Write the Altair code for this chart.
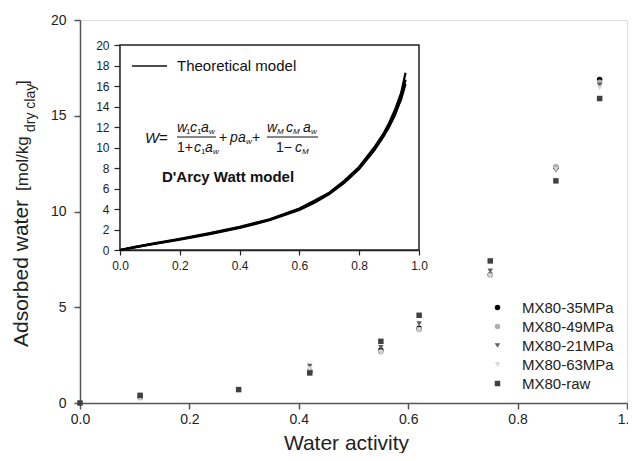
import altair as alt
import pandas as pd

FONT = "Liberation Sans"

# ---------------- data ----------------
aw = [0.0, 0.11, 0.29, 0.42, 0.55, 0.62, 0.75, 0.87, 0.95]
mx35 = [None, 0.30, None, 1.65, 2.75, 3.90, 6.70, 12.30, 16.90]
mx49 = [None, 0.28, None, 1.70, 2.68, 3.84, 6.68, 12.35, 16.75]
mx21 = [None, 0.35, None, 1.92, 2.90, 4.15, 6.90, 12.15, 16.60]
mx63 = [None, 0.25, None, 1.80, 2.65, 3.82, 6.62, 12.20, 16.45]
mxraw = [0.0, 0.40, 0.70, 1.57, 3.22, 4.58, 7.42, 11.60, 15.90]

series_names = ["MX80-35MPa", "MX80-49MPa", "MX80-21MPa", "MX80-63MPa", "MX80-raw"]
series_colors = ["#000000", "#b0b0b0", "#606060", "#d6d6d6", "#404040"]
series_shapes = ["circle", "circle", "triangle-down", "triangle-down", "square"]

# theoretical (D'Arcy-Watt) curves in the inset
aw_fit = [0, 0.05, 0.1, 0.2, 0.3, 0.4, 0.5, 0.6, 0.65, 0.7, 0.75, 0.8, 0.85, 0.88, 0.9, 0.92, 0.94, 0.955]
fit_a = [0, 0.28, 0.55, 1.05, 1.60, 2.20, 2.95, 4.00, 4.70, 5.55, 6.70, 8.10, 10.0, 11.3, 12.4, 13.7, 15.3, 17.3]
fit_b = [0, 0.26, 0.52, 1.00, 1.55, 2.15, 2.90, 3.90, 4.60, 5.45, 6.55, 7.90, 9.70, 11.0, 12.0, 13.2, 14.8, 16.6]
fit_c = [0, 0.30, 0.58, 1.10, 1.65, 2.25, 3.00, 4.05, 4.80, 5.60, 6.75, 8.10, 9.90, 11.1, 12.1, 13.3, 14.7, 16.2]

main_x_ticks = [0.0, 0.2, 0.4, 0.6, 0.8, 1.0]
main_y_ticks = [0, 5, 10, 15, 20]
inset_x_ticks = [0.0, 0.2, 0.4, 0.6, 0.8, 1.0]
inset_y_ticks = [0, 2, 4, 6, 8, 10, 12, 14, 16, 18, 20]

# ---------------- tables ----------------
rows = []
for name, vals in zip(series_names, [mx35, mx49, mx21, mx63, mxraw]):
    for a, v in zip(aw, vals):
        if v is not None:
            rows.append({"aw": a, "w": v, "series": name})
pts = pd.DataFrame(rows)

fit_rows = []
for k, vals in zip(["a", "b", "c"], [fit_a, fit_b, fit_c]):
    for a, v in zip(aw_fit, vals):
        fit_rows.append({"aw": a, "w": v, "curve": k})
fit = pd.DataFrame(fit_rows)

W, H = 547, 383
AX = "#555555"

points = alt.Chart(pts).mark_point(filled=True, size=30, opacity=1).encode(
    x=alt.X("aw:Q", scale=alt.Scale(domain=[0, 1], nice=False, zero=False),
            axis=alt.Axis(values=main_x_ticks, format=".1f", title="Water activity",
                          labelFontSize=14, titleFontSize=21, titleFontWeight="normal",
                          tickSize=6, labelPadding=3, titlePadding=6, titleX=266,
                          domainColor=AX, tickColor=AX, labelColor="#222", titleColor="#222",
                          domainWidth=1.5, tickWidth=1.5, grid=False, labelFlush=False)),
    y=alt.Y("w:Q", scale=alt.Scale(domain=[0, 20], nice=False),
            axis=alt.Axis(values=main_y_ticks, format="d", title=None,
                          labelFontSize=14, tickSize=6, labelPadding=8,
                          domainColor=AX, tickColor=AX, labelColor="#222",
                          domainWidth=1.5, tickWidth=1.5, grid=False)),
    color=alt.Color("series:N", scale=alt.Scale(domain=series_names, range=series_colors),
                    legend=alt.Legend(title=None, orient="none", legendX=410, legendY=280,
                                      labelFontSize=15, labelColor="#222", symbolSize=30,
                                      rowPadding=3, labelOffset=17, padding=0)),
    shape=alt.Shape("series:N", scale=alt.Scale(domain=series_names, range=series_shapes)),
)

inset_x = alt.Scale(domain=[0, 1], range=[40, 339], nice=False, zero=False)
inset_y = alt.Scale(domain=[0, 20], range=[230, 25], nice=False, zero=False)

frame_df = pd.DataFrame({"x0": [0.0], "x1": [1.0], "y0": [0.0], "y1": [20.0]})
frame = alt.Chart(frame_df).mark_rect(fill="white", stroke="#222", strokeWidth=1.5).encode(
    x=alt.X("x0:Q", scale=inset_x,
            axis=alt.Axis(orient="bottom", offset=-153, values=inset_x_ticks, format=".1f",
                          title=None, labelFontSize=12, tickSize=5, labelPadding=5,
                          domainColor="#222", tickColor="#222", labelColor="#222",
                          domainWidth=1.5, tickWidth=1.2, grid=False, labelFlush=False)),
    x2="x1:Q",
    y=alt.Y("y0:Q", scale=inset_y,
            axis=alt.Axis(orient="left", offset=-40, values=inset_y_ticks, format="d",
                          title=None, labelFontSize=12, tickSize=6, labelPadding=5,
                          domainColor="#222", tickColor="#222", labelColor="#222",
                          domainWidth=1.5, tickWidth=1.2, grid=False)),
    y2="y1:Q",
)
curves = alt.Chart(fit).mark_line(color="black", strokeWidth=2.2).encode(
    x=alt.X("aw:Q", scale=inset_x, axis=None),
    y=alt.Y("w:Q", scale=inset_y, axis=None),
    detail="curve:N",
)


def txt(t, x, y, size, style="normal", weight="normal", angle=0, align="left",
        baseline="middle", color="#111"):
    return alt.Chart(pd.DataFrame({"t": [t]})).mark_text(
        x=x, y=y, fontSize=size, fontStyle=style, fontWeight=weight, angle=angle,
        align=align, baseline=baseline, font=FONT, color=color).encode(text="t:N")


def rule(x1, x2, y, width=1.2):
    return alt.Chart(pd.DataFrame({"t": [0]})).mark_rule(color="#111", strokeWidth=width).encode(
        x=alt.value(x1), x2=alt.value(x2), y=alt.value(y))


texts = [
    # inset legend
    rule(52, 87, 46, 1.5),
    txt("Theoretical model", 97, 46, 15),
    # formula
    txt("W", 65, 118, 15, "italic"), txt("=", 79, 118, 15),
    txt("w", 97, 108, 14, "italic"), txt("1", 106, 112, 8), txt("c", 110, 108, 14, "italic"),
    txt("1", 117, 112, 8), txt("a", 121, 108, 14, "italic"), txt("w", 129, 112, 8, "italic"),
    rule(97, 136, 117),
    txt("1+", 97, 128, 14), txt("c", 114, 128, 14, "italic"), txt("1", 121, 132, 8),
    txt("a", 125, 128, 14, "italic"), txt("w", 133, 132, 8, "italic"),
    txt("+", 139, 118, 14), txt("p", 150, 118, 14, "italic"), txt("a", 158, 118, 14, "italic"),
    txt("w", 166, 122, 8, "italic"), txt("+", 172, 118, 14),
    txt("w", 187, 108, 14, "italic"), txt("M", 197, 112, 8, "italic"), txt("c", 206, 108, 14, "italic"),
    txt("M", 213, 112, 8, "italic"), txt("a", 223, 108, 14, "italic"), txt("w", 231, 112, 8, "italic"),
    rule(187, 238, 117),
    txt("1\u2212", 196, 128, 14), txt("c", 215, 128, 14, "italic"), txt("M", 222, 132, 8, "italic"),
    txt("D'Arcy Watt model", 148, 157, 15, weight="bold", align="center"),
    # y axis title
    txt("Adsorbed water", -52, 327, 21, angle=270, baseline="alphabetic", color="#222"),
    txt("[mol/kg", -52, 171, 17, angle=270, baseline="alphabetic", color="#222"),
    txt("dry clay", -45, 112, 14, angle=270, baseline="alphabetic", color="#222"),
    txt("]", -52, 65, 17, angle=270, baseline="alphabetic", color="#222"),
]

chart = alt.layer(points, frame, curves, *texts).resolve_scale(
    x="independent", y="independent"
).resolve_axis(
    x="independent", y="independent"
).properties(
    width=W, height=H,
    autosize=alt.AutoSizeParams(type="none"),
    padding={"left": 72, "top": 12, "right": 1, "bottom": 50},
).configure_view(
    stroke=AX, strokeWidth=1.5
).configure(
    font=FONT
)

chart.save("out.html", embed_options={"renderer": "svg", "actions": False})
